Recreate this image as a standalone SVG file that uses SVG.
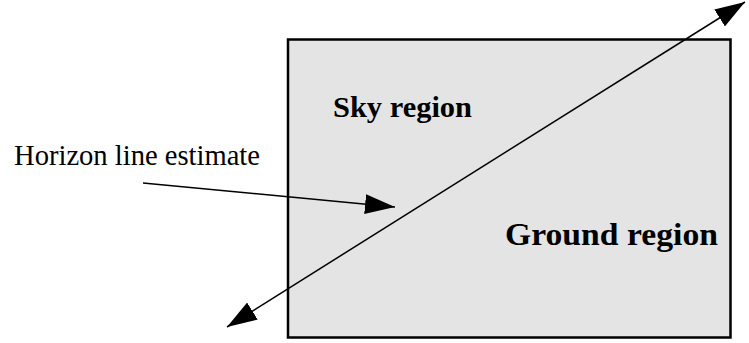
<svg xmlns="http://www.w3.org/2000/svg" width="749" height="343" viewBox="0 0 749 343">
  <style>
    .label { font-family: "Liberation Serif", "Times New Roman", serif; fill: #000; }
    .bold { font-weight: bold; }
    .line { stroke: #000; stroke-width: 1.5; fill: none; }
  </style>
  <defs>
    <marker id="head" viewBox="0 0 30 20" refX="30" refY="10" markerWidth="30" markerHeight="20" markerUnits="userSpaceOnUse" orient="auto-start-reverse">
      <path d="M0,0 L30,10 L0,20 Z" fill="#000"/>
    </marker>
  </defs>
  <rect width="749" height="343" fill="#fff"/>
  <g id="image-frame">
    <rect x="288" y="39.5" width="442.5" height="298" fill="#e4e4e4" stroke="#000" stroke-width="2.5"/>
  </g>
  <g id="sky-label">
    <text class="label bold" x="333" y="117" font-size="30" textLength="139" lengthAdjust="spacingAndGlyphs">Sky region</text>
  </g>
  <g id="ground-label">
    <text class="label bold" x="505" y="245" font-size="31" textLength="213" lengthAdjust="spacingAndGlyphs">Ground region</text>
  </g>
  <g id="horizon-label">
    <text class="label" x="14" y="165" font-size="28.5" textLength="246" lengthAdjust="spacingAndGlyphs">Horizon line estimate</text>
  </g>
  <g id="connectors">
    <line class="line" x1="227" y1="327" x2="745" y2="2" marker-start="url(#head)" marker-end="url(#head)"/>
    <line class="line" x1="143" y1="183" x2="395" y2="207" marker-end="url(#head)"/>
  </g>
</svg>
